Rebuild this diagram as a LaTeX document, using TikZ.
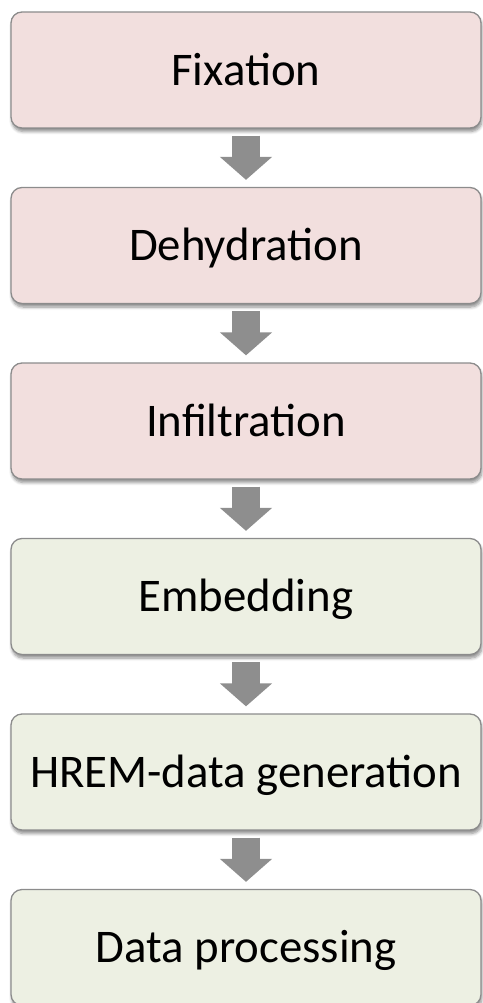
\documentclass[tikz,border=0pt]{standalone}
\usepackage{fontspec}
\setmainfont{Carlito}
\usetikzlibrary{arrows.meta,shadows.blur,positioning}
\definecolor{pinkfill}{HTML}{F2DFDE}
\definecolor{greenfill}{HTML}{EDF0E3}
\definecolor{edgegray}{HTML}{8C8C8C}
\definecolor{arrowgray}{HTML}{8E8E8E}
\begin{document}
\begin{tikzpicture}[x=1pt,y=1pt,
  stepbox/.style={draw=edgegray, line width=1.3pt, rounded corners=11pt,
    minimum width=470pt, minimum height=116pt, inner sep=0pt,
    text height=30.5pt, text depth=0pt,
    font=\fontsize{46.8}{56}\selectfont,
    blur shadow={shadow xshift=1pt, shadow yshift=-3.5pt, shadow blur steps=6, shadow blur radius=3pt, shadow opacity=45}},
  redbox/.style={stepbox, fill=pinkfill},
  greenbox/.style={stepbox, fill=greenfill},
  flow/.style={line width=28pt, arrowgray, shorten <=7pt, shorten >=7pt,
    -{Triangle[width=51pt,length=23pt]}}
]
\useasboundingbox (0,0) rectangle (482,-1003);
\node[redbox]   (fix) at (246,-70)   {Fixation};
\node[redbox]   (deh) at (246,-245.5) {Dehydration};
\node[redbox]   (inf) at (246,-421)  {Infiltration};
\node[greenbox] (emb) at (246,-596.5) {Embedding};
\node[greenbox] (hrem) at (246,-772)  {HREM-data generation};
\node[greenbox] (proc) at (246,-947.5) {Data processing};
\draw[flow] (fix.south) -- (deh.north);
\draw[flow] (deh.south) -- (inf.north);
\draw[flow] (inf.south) -- (emb.north);
\draw[flow] (emb.south) -- (hrem.north);
\draw[flow] (hrem.south) -- (proc.north);
\end{tikzpicture}
\end{document}
